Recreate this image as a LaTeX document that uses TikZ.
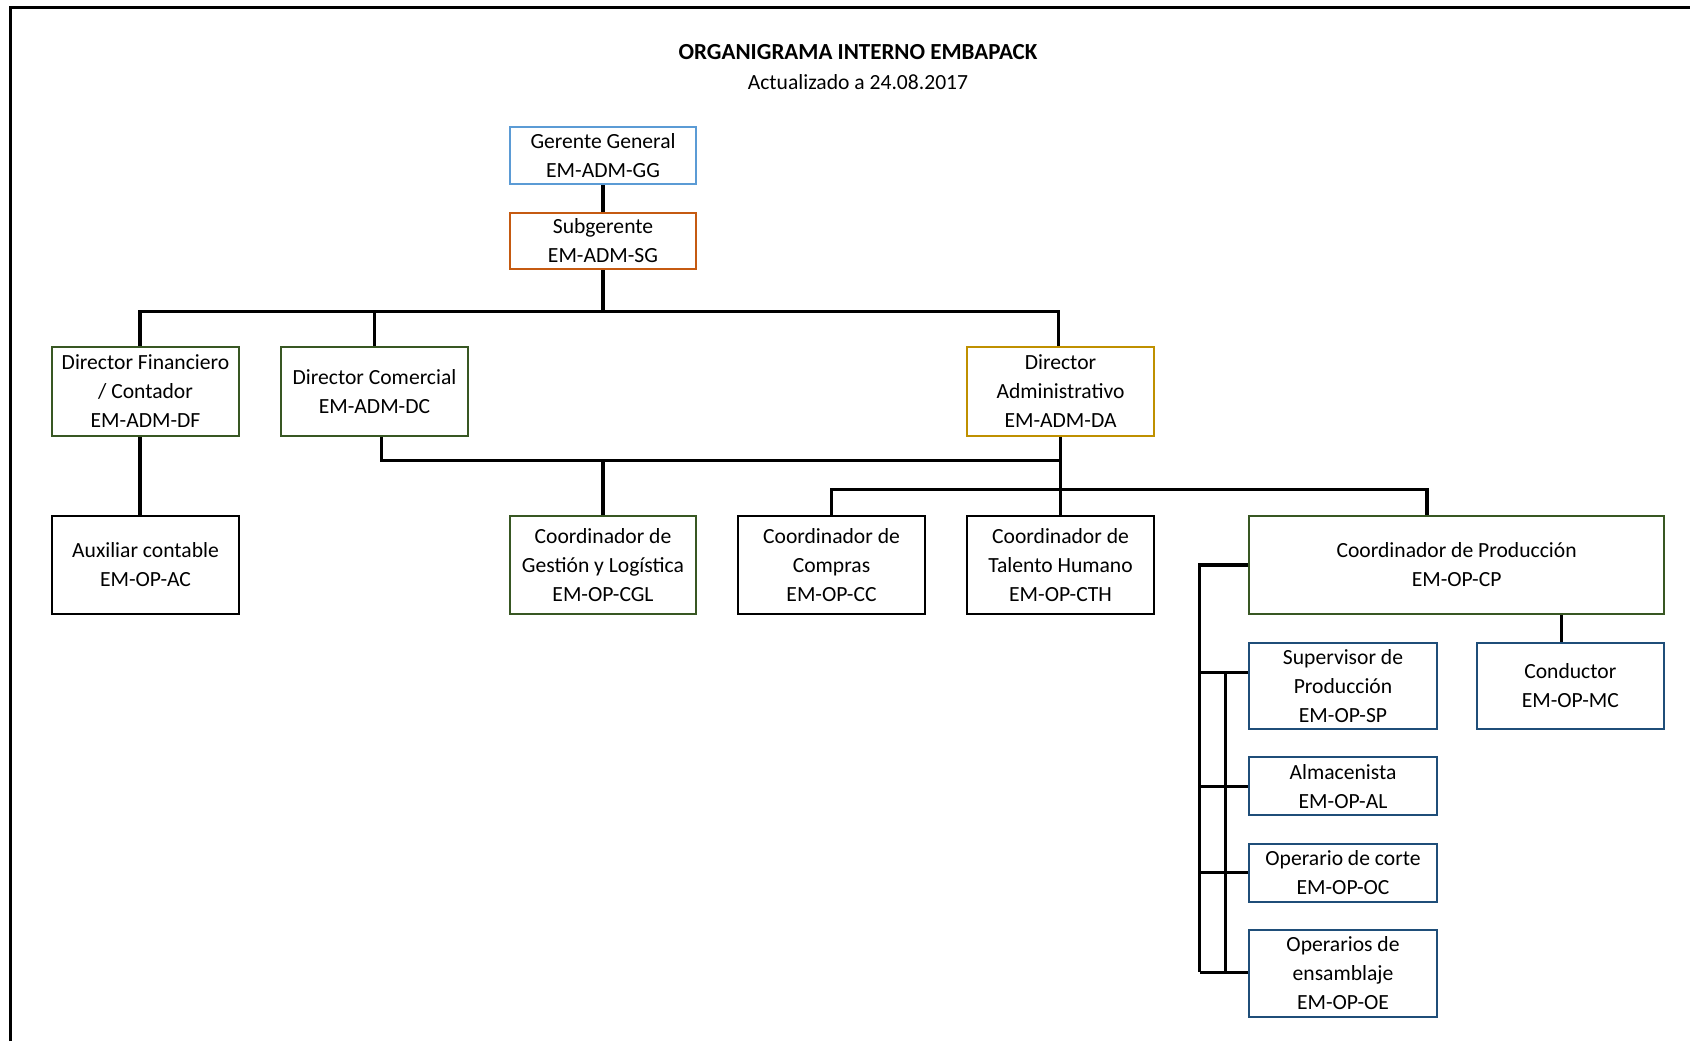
\documentclass[tikz,border=0pt]{standalone}
\usepackage{fontspec}
\setmainfont{Carlito}
\definecolor{cblue}{HTML}{5B9BD5}
\definecolor{corange}{HTML}{C55A11}
\definecolor{cgreen}{HTML}{385723}
\definecolor{cgold}{HTML}{BF9000}
\definecolor{cnavy}{HTML}{1F4E79}
\begin{document}
\begin{tikzpicture}[x=0.5pt,y=-0.5pt,
  box/.style={draw, line width=1pt, align=center, inner sep=0pt, fill=white,
    font=\fontsize{10.8}{14.5}\selectfont},
  con/.style={line width=1.6pt},
  txt/.style={font=\fontsize{10.8}{14.5}\selectfont, inner sep=0pt}]
\useasboundingbox (0,0) rectangle (1690,1041);
\draw[line width=1.5pt] (10,1041) -- (10,7) -- (1690,7);

\node[txt, font=\fontsize{11.5}{14.5}\selectfont\bfseries] (title) at (858,51.7) {ORGANIGRAMA INTERNO EMBAPACK};
\node[txt] (sub) at (858,82.5) {Actualizado a 24.08.2017};

\node[box, draw=cblue, minimum width=93.25pt, minimum height=28.5pt] (gg) at (603,155.5) {Gerente General\\EM-ADM-GG};
\node[box, draw=corange, minimum width=93.25pt, minimum height=28pt] (sg) at (603,241) {Subgerente\\EM-ADM-SG};

\node[box, draw=cgreen, minimum width=93.8pt, minimum height=44.7pt] (df) at (145.5,391.5) {Director Financiero\\/ Contador\\EM-ADM-DF};
\node[box, draw=cgreen, minimum width=93.25pt, minimum height=44.7pt] (dc) at (374.5,391.5) {Director Comercial\\EM-ADM-DC};
\node[box, draw=cgold, minimum width=93.75pt, minimum height=44.7pt] (da) at (1060.5,391.5) {Director\\Administrativo\\EM-ADM-DA};

\node[box, draw=black, minimum width=93.8pt, minimum height=49pt] (ac) at (145.5,565) {Auxiliar contable\\EM-OP-AC};
\node[box, draw=cgreen, minimum width=93.25pt, minimum height=49pt] (cgl) at (603,565) {Coordinador de\\Gestión y Logística\\EM-OP-CGL};
\node[box, draw=black, minimum width=93.25pt, minimum height=49pt] (cc) at (831.5,565) {Coordinador de\\Compras\\EM-OP-CC};
\node[box, draw=black, minimum width=93.75pt, minimum height=49pt] (cth) at (1060.5,565) {Coordinador de\\Talento Humano\\EM-OP-CTH};
\node[box, draw=cgreen, minimum width=207.5pt, minimum height=49pt] (cp) at (1456.6,565) {Coordinador de Producción\\EM-OP-CP};

\node[box, draw=cnavy, minimum width=93.75pt, minimum height=43pt] (sp) at (1343,686) {Supervisor de\\Producción\\EM-OP-SP};
\node[box, draw=cnavy, minimum width=93.75pt, minimum height=43pt] (mc) at (1570.3,686) {Conductor\\EM-OP-MC};
\node[box, draw=cnavy, minimum width=93.75pt, minimum height=29pt] (al) at (1343,786.3) {Almacenista\\EM-OP-AL};
\node[box, draw=cnavy, minimum width=93.75pt, minimum height=29pt] (oc) at (1343,872.5) {Operario de corte\\EM-OP-OC};
\node[box, draw=cnavy, minimum width=93.75pt, minimum height=43.5pt] (oe) at (1343,973.3) {Operarios de\\ensamblaje\\EM-OP-OE};

% connectors
\coordinate (busL) at (140,311.5);
\coordinate (busR) at (1058.4,311.5);
\draw[con] (gg.south) -- (sg.north);
\draw[con] (sg.south) -- (sg.south |- busL);
\draw[con] (df.north -| busL) -- (busL) -- (busR) -- (da.north -| busR);
\draw[con] (dc.north) -- (dc.north |- busL);
\draw[con] (df.south -| busL) -- (ac.north -| busL);

\coordinate (dcb) at (381.5,460.2);
\draw[con] (dc.south -| dcb) -- (dcb) -- (dcb -| da.south);
\draw[con] (da.south) -- (cth.north);
\draw[con] (cgl.north) -- (cgl.north |- dcb);

\coordinate (cpd) at (1427,489.3);
\draw[con] (cc.north) |- (cpd) -- (cpd |- cp.north);

\coordinate (vl) at (1199.6,564.8);
\coordinate (vl2) at (1225.5,672.5);
\coordinate (spb) at (1199.6,672.5);
\coordinate (vlb) at (1199.6,972.2);
\draw[con] (cp.west) -- (cp.west -| vl) -- (vlb);
\draw[con] (spb) -- (spb -| sp.west);
\draw[con] (vl |- al.west) -- (al.west);
\draw[con] (vl |- oc.west) -- (oc.west);
\draw[con] (vlb) -- (vlb -| oe.west);
\draw[con] (vl2) -- (vl2 |- vlb);

\coordinate (mcx) at (1561.7,0);
\draw[con] (cp.south -| mcx) -- (mc.north -| mcx);
\end{tikzpicture}
\end{document}
